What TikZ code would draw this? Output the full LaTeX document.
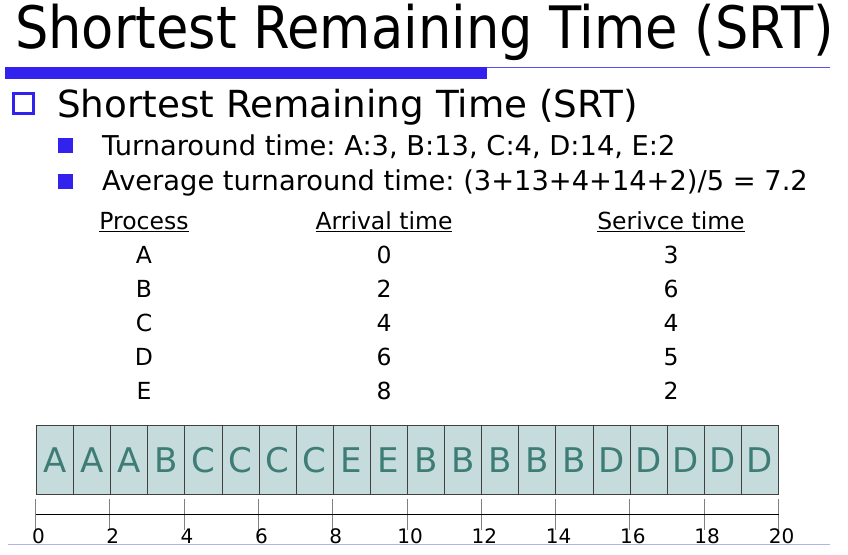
\documentclass[tikz,border=0pt]{standalone}
\usepackage{fontspec}
\setmainfont{DejaVu Sans}
\newfontfamily\titlefont{DejaVu Sans Condensed}
\frenchspacing
\usetikzlibrary{positioning}
\definecolor{slideblue}{HTML}{3322EE}
\definecolor{slideline}{HTML}{B4B4EC}
\definecolor{cellfill}{HTML}{C6DCDC}
\definecolor{celltext}{HTML}{3E7C76}
\tikzstyle{heading} = [
    anchor=base west,
    inner sep=0pt,
    font=\titlefont\fontsize{58.5}{62}\selectfont
]
\tikzstyle{levelone} = [
    anchor=base west,
    inner sep=0pt,
    font=\fontsize{37.3}{40}\selectfont
]
\tikzstyle{leveltwo} = [
    anchor=base west,
    inner sep=0pt,
    font=\fontsize{27.3}{31}\selectfont
]
\tikzstyle{tablecell} = [
    anchor=base,
    inner sep=0pt,
    font=\fontsize{23.5}{27}\selectfont
]
\tikzstyle{hollowbullet} = [
    rectangle,
    draw=slideblue,
    line width=2.5pt,
    minimum size=20pt,
    inner sep=0pt
]
\tikzstyle{fullbullet} = [
    rectangle,
    fill=slideblue,
    minimum size=15pt,
    inner sep=0pt
]
\tikzstyle{slot} = [
    rectangle,
    draw=black!75,
    fill=cellfill,
    text=celltext,
    minimum width=37.1pt,
    minimum height=69pt,
    inner sep=0pt,
    anchor=north west,
    font=\fontsize{34}{40}\selectfont
]
\tikzstyle{ticklines} = [draw=black!50, line width=1pt]
\tikzstyle{ticklabel} = [anchor=base, inner sep=0pt, font=\fontsize{20}{24}\selectfont]

\begin{document}
\begin{tikzpicture}[x=1pt, y=-1pt]
\useasboundingbox (0,0) rectangle (848,554);

% title and bar
\node (title) [heading] at (15,48) {Shortest Remaining Time (SRT)};
\fill [slideblue] (5,67) rectangle (487,79);
\draw [slideblue!80, line width=1pt] (487,67.5) -- (830,67.5);

% bullets
\node (b1) [hollowbullet] at (23.5,103.5) {};
\node (l1) [levelone] at (57,117) {Shortest Remaining Time (SRT)};
\node (b2) [fullbullet] at (65.5,145) {};
\node (l2) [leveltwo] at (102,155) {Turnaround time: A:3, B:13, C:4, D:14, E:2};
\node (b3) [fullbullet] at (65.5,181.5) {};
\node (l3) [leveltwo] at (102,190) {Average turnaround time: (3+13+4+14+2)/5 = 7.2};

% table
\node (hproc) [tablecell] at (144,229) {\underline{Process}};
\node (harr) [tablecell] at (384,229) {\underline{Arrival time}};
\node (hserv) [tablecell] at (671,229) {\underline{Serivce time}};
\foreach \p/\a/\s [count=\i from 0] in {A/0/3, B/2/6, C/4/4, D/6/5, E/8/2} {
    \node (p\p) [tablecell] at (144,263+34*\i) {\p};
    \node (a\p) [tablecell] at (384,263+34*\i) {\a};
    \node (s\p) [tablecell] at (671,263+34*\i) {\s};
}

% gantt chart
\foreach \l [count=\i from 0] in {A,A,A,B,C,C,C,C,E,E,B,B,B,B,B,D,D,D,D,D} {
    \node (g\i) [slot] at (36+37.1*\i,425) {\l};
}

% time axis
\foreach \t in {0,2,...,20} {
    \coordinate (t\t) at (35.5+37.15*\t,514);
    \draw [ticklines] ([yshift=15pt]t\t) -- ([yshift=-16pt]t\t);
    \node (n\t) [ticklabel] at ([xshift=3pt,yshift=-29pt]t\t) {\t};
}
\draw [black, line width=1pt] (t0) -- (t20);
\draw [slideline, line width=1pt] (8,544) -- (830,544);

\end{tikzpicture}
\end{document}
